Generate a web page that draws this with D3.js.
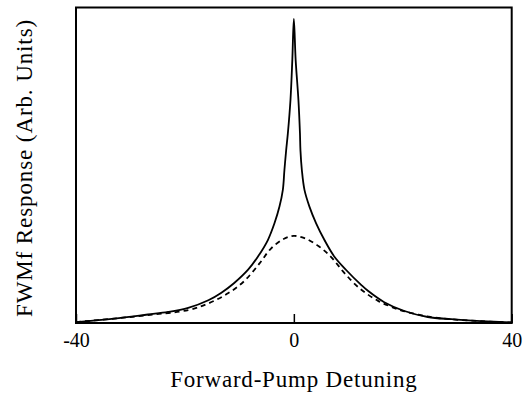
<!DOCTYPE html>
<html lang="en">
  <head>
    <meta charset="utf-8">
    <title>FWMf Response</title>
    <script src="https://d3js.org/d3.v7.js"></script>
    <style>
      body { margin: 0; background: #fff; }
      svg { display: block; }
    </style>
  </head>

  <body>

  <script>

// Data (detuning, response in arb. units 0-100)

  var solidX = [-40, -33.0, -26.8, -23.1, -19.4, -15.7, -13.3, -11.0, -8.4, -6.61, -4.77, -3.56, -2.64, -2.02, -1.73, -1.41, -1.1, -0.62, -0.28, 0,
                0.33, 0.84, 1.12, 1.21, 1.47, 1.95, 2.86, 4.09, 5.62, 7.45, 9.6, 12.4, 13.6, 16.6, 20.3, 24.6, 28.9, 34.4, 40];
  var solidY = [0.3, 1.4, 2.7, 3.5, 4.8, 7.2, 9.6, 12.6, 16.9, 21.0, 26.3, 31.6, 36.9, 42.2, 48.5, 54.8, 60.1, 70.7, 83.4, 96.4,
                83.4, 70.7, 60.2, 54.8, 48.5, 42.2, 36.9, 31.6, 26.3, 21.0, 16.8, 12.0, 10.2, 6.6, 3.8, 1.9, 1.2, 0.6, 0.16];

  var dashX = [-40, -33.0, -26.8, -19.4, -15.7, -12.1, -9.1, -6.3, -4.2, -1.8, 0,
               1.95, 4.5, 6.85, 9.3, 12.2, 15.4, 17.8, 20.1, 25.1, 28.8, 34.3, 40];
  var dashY = [0.3, 1.4, 2.5, 4.1, 6.2, 9.4, 13.3, 18.9, 23.6, 26.7, 27.6,
               26.9, 24.4, 20.9, 15.8, 10.8, 7.1, 5.2, 3.8, 1.9, 1.2, 0.57, 0.16];

  var xTicks = [-40, 0, 40];
  var xLabel = "Forward-Pump Detuning";
  var yLabel = "FWMf Response (Arb. Units)";

  var serif = "Liberation Serif, Times New Roman, serif";

  var w = 523;
  var h = 394;
  var margin = {top: 7.5, right: 11.3, bottom: 71, left: 76};
  var innerWidth = w - margin.left - margin.right;
  var innerHeight = h - margin.top - margin.bottom;

  var svg = d3.select("body")
    .append("svg")
      .attr("width", w)
      .attr("height", h);

  var xScale = d3.scaleLinear()
      .domain([-40, 40])
      .range([0, innerWidth]);

  var yScale = d3.scaleLinear()
      .domain([0, 100])
      .range([innerHeight, 0]);

  var plot = svg.append("g")
      .attr("transform", `translate(${margin.left}, ${margin.top})`);

// curves

  var line = d3.line()
      .x(d => xScale(d[0]))
      .y(d => yScale(d[1]))
      .curve(d3.curveCatmullRom.alpha(0.5));

  plot.append("path")
      .datum(solidX.map((x, i) => [x, solidY[i]]))
      .attr("d", line)
      .attr("fill", "none")
      .attr("stroke", "#000")
      .attr("stroke-width", 1.8);

  plot.append("path")
      .datum(dashX.map((x, i) => [x, dashY[i]]))
      .attr("d", line)
      .attr("fill", "none")
      .attr("stroke", "#000")
      .attr("stroke-width", 1.8)
      .attr("stroke-dasharray", "5,4");

// frame and axis

  plot.append("rect")
      .attr("x", 0)
      .attr("y", 0)
      .attr("width", innerWidth)
      .attr("height", innerHeight)
      .attr("fill", "none")
      .attr("stroke", "#000")
      .attr("stroke-width", 2);

  var xAxis = d3.axisBottom(xScale)
      .tickValues(xTicks)
      .tickFormat(d => String(d))
      .tickSize(-9)
      .tickPadding(10);

  var gx = plot.append("g")
      .attr("transform", `translate(0, ${innerHeight})`)
      .call(xAxis)
      .attr("font-family", serif)
      .attr("font-size", 20);

  gx.select(".domain").remove();
  gx.selectAll("line").attr("stroke-width", 1.5);
  gx.selectAll("text").attr("fill", "#000");

// axis titles

  svg.append("text")
      .attr("x", margin.left + innerWidth / 2)
      .attr("y", 386.5)
      .attr("text-anchor", "middle")
      .attr("font-family", serif)
      .attr("font-size", 23)
      .attr("letter-spacing", 0.8)
      .text(xLabel);

  svg.append("text")
      .attr("transform", "translate(31.5, 168) rotate(-90)")
      .attr("text-anchor", "middle")
      .attr("font-family", serif)
      .attr("font-size", 23)
      .attr("letter-spacing", 0.9)
      .text(yLabel);

  </script>

  </body>

</html>
